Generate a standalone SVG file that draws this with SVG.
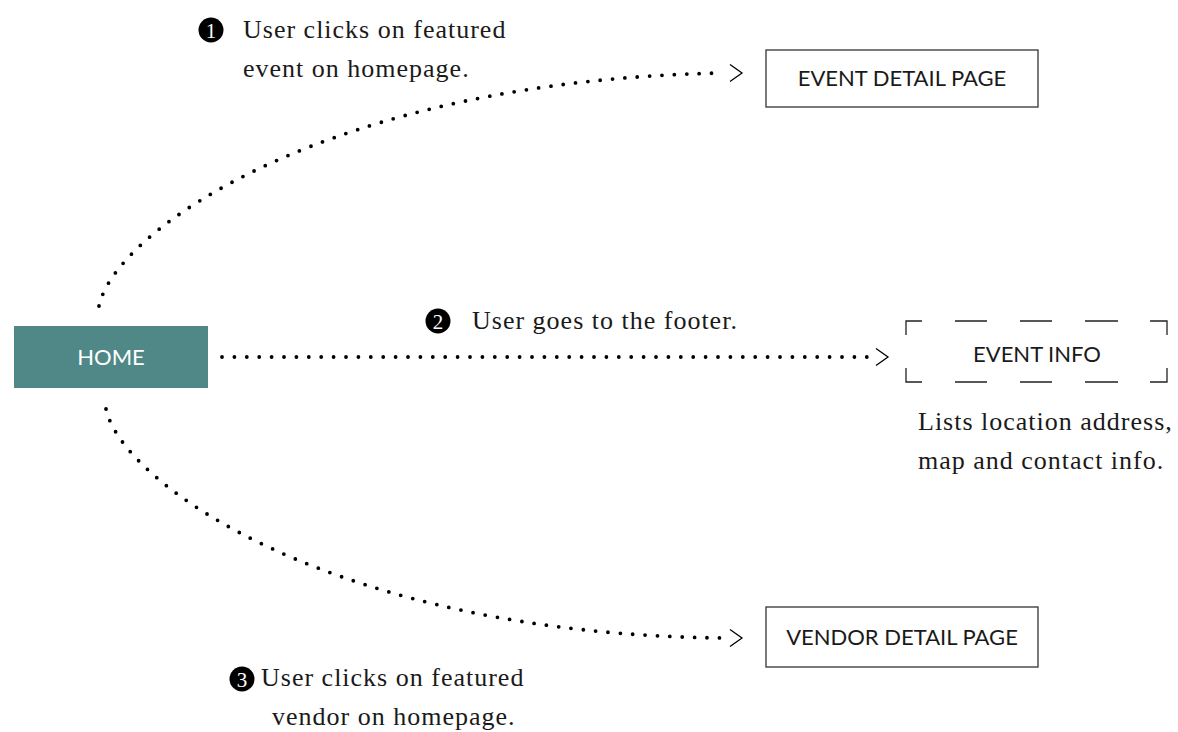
<svg xmlns="http://www.w3.org/2000/svg" width="1178" height="732" viewBox="0 0 1178 732">
<style>
.lbl{font-family:Lato,"Noto Sans",sans-serif;font-size:22px;fill:#1a1a1a;text-anchor:middle}
.note{font-family:"Liberation Serif",serif;font-size:26px;letter-spacing:1px;fill:#1a1a1a}
.num{font-family:"Liberation Serif",serif;font-size:21px;fill:#fff;text-anchor:middle}
.dots{fill:none;stroke:#000;stroke-width:3.8;stroke-linecap:round;stroke-dasharray:0 12.4}
.chev{fill:none;stroke:#000;stroke-width:1.3}
.box{fill:#fff;stroke:#333;stroke-width:1.3}
</style>
<rect width="1178" height="732" fill="#fff"/>
<g id="connectors">
<path class="dots" d="M99,306 C115,230 330,80 724,73"/>
<polyline class="chev" points="730,64.5 742,73 730,81.5"/>
<path class="dots" d="M222,357 H870"/>
<polyline class="chev" points="876,348.5 888,357 876,365.5"/>
<path class="dots" d="M106,409 C122,484 335,634 724,638"/>
<polyline class="chev" points="730,629.5 742,638 730,646.5"/>
</g>
<g id="home">
<rect x="14" y="326" width="194" height="62" fill="#4f8886"/>
<text class="lbl" x="111" y="365" style="fill:#fff">HOME</text>
</g>
<g id="event-detail">
<rect class="box" x="766" y="50" width="272" height="57"/>
<text class="lbl" x="902" y="86">EVENT DETAIL PAGE</text>
</g>
<g id="vendor-detail">
<rect class="box" x="766" y="607" width="272" height="60"/>
<text class="lbl" x="902" y="645">VENDOR DETAIL PAGE</text>
</g>
<g id="event-info">
<path fill="none" stroke="#222" stroke-width="1.3" d="M906,335 V321 H922 M955,321 H987 M1020,321 H1052 M1085,321 H1118 M1150,321 H1167 V335 M906,368 V382 H922 M955,382 H987 M1020,382 H1052 M1085,382 H1118 M1150,382 H1167 V368"/>
<text class="lbl" x="1037" y="362">EVENT INFO</text>
<text class="note" x="918" y="430">Lists location address,</text>
<text class="note" x="918" y="469">map and contact info.</text>
</g>
<g id="step1">
<circle cx="211" cy="30" r="12.5" fill="#000"/>
<text class="num" x="211" y="37.5">1</text>
<text class="note" x="243" y="38">User clicks on featured</text>
<text class="note" x="243" y="77">event on homepage.</text>
</g>
<g id="step2">
<circle cx="438" cy="321" r="12.5" fill="#000"/>
<text class="num" x="438" y="328.5">2</text>
<text class="note" x="472" y="329">User goes to the footer.</text>
</g>
<g id="step3">
<circle cx="242" cy="679" r="12.5" fill="#000"/>
<text class="num" x="242" y="686.5">3</text>
<text class="note" x="261" y="686">User clicks on featured</text>
<text class="note" x="272" y="725">vendor on homepage.</text>
</g>
</svg>
